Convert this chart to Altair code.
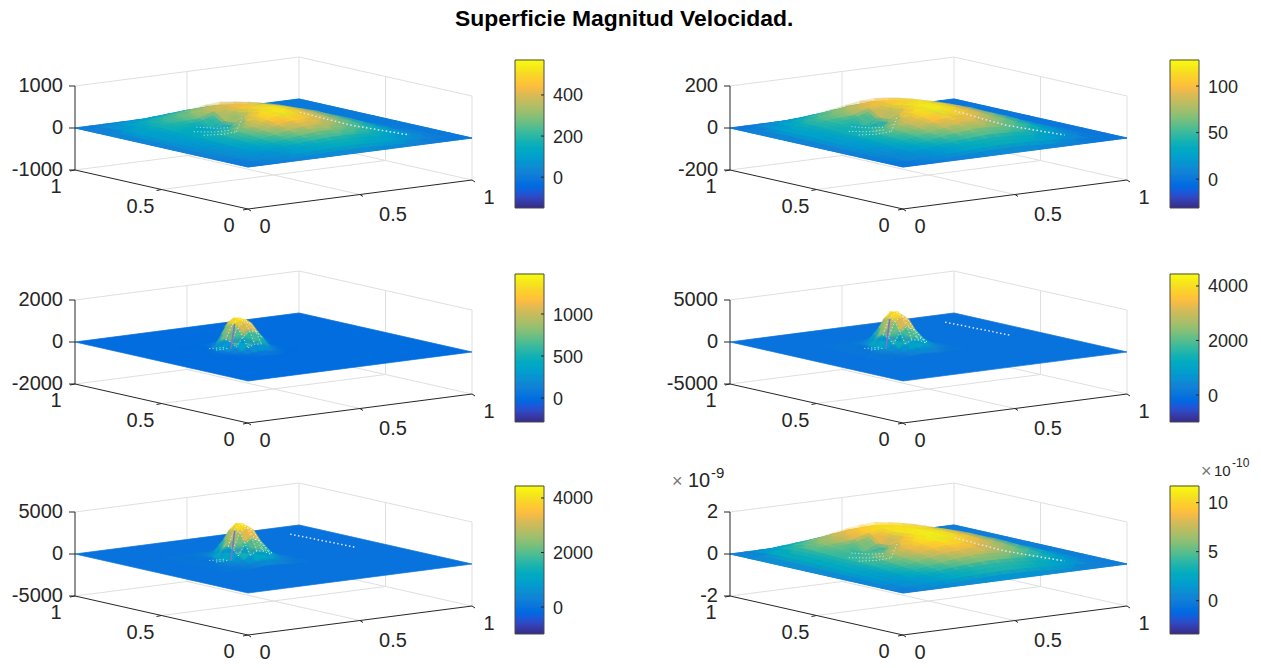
import altair as alt
import pandas as pd

RGB = [(.2081,.1663,.5292),(.2081,.2386,.6771),(.1253,.3242,.8303),(.0060,.4086,.8828),(.0498,.4586,.8641),(.0779,.5040,.8384),(.0641,.5570,.8240),(.0265,.6137,.8135),(.0228,.6535,.7768),(.0590,.6838,.7254),(.1453,.7098,.6646),(.2586,.7317,.5954),(.3953,.7459,.5244),(.5300,.7491,.4661),(.6473,.7456,.4188),(.7525,.7384,.3768),(.8507,.7299,.3360),(.9739,.7314,.2666),(.9955,.7861,.1967),(.9697,.8481,.1475),(.9598,.9218,.0948),(.9763,.9831,.0538)]
PARULA = ["#%02x%02x%02x" % tuple(int(round(c*255)) for c in t) for t in RGB]

TITLE = "Superficie Magnitud Velocidad."

G17 = [i/16 for i in range(17)]
G17Y = [1 - i/16 for i in range(17)]
Z0 = [0]*17

P1_ROWS = [Z0,
[0,35,60,75,90,115,140,165,175,155,125,90,50,20,5,0,0],
[0,50,90,120,150,185,220,260,280,250,205,145,70,15,0,0,0],
[0,65,120,165,210,250,290,340,370,335,285,190,65,5,0,0,0],
[0,70,140,200,240,290,350,400,420,380,325,225,75,5,0,0,0],
[0,70,140,195,205,220,330,430,470,420,360,260,85,5,0,0,0],
[0,65,130,170,120,50,170,420,500,450,385,285,110,10,0,0,0],
[0,60,120,160,110,40,190,475,545,480,400,310,150,15,0,0,0],
[0,55,115,170,190,200,380,535,570,500,410,325,185,25,0,0,0],
[0,50,110,170,230,310,450,545,565,485,400,315,210,50,5,0,0],
[0,45,100,160,220,300,420,495,510,445,375,300,210,80,10,0,0],
[0,40,90,145,200,270,360,425,440,385,335,275,195,95,15,0,0],
[0,35,80,125,175,230,290,335,350,310,275,235,170,95,20,0,0],
[0,30,65,100,140,180,225,255,270,245,220,190,140,80,25,0,0],
[0,22,48,75,105,135,165,185,195,185,165,140,105,65,25,5,0],
[0,12,26,40,55,72,88,100,105,100,90,76,58,36,15,3,0],
Z0]

P2_ROWS = [Z0,
[0,8,14,18,22,28,34,40,42,38,32,24,14,6,1,0,0],
[0,13,23,31,39,49,58,67,70,63,52,36,17,4,0,0,0],
[0,16,30,42,54,65,77,88,92,84,70,47,19,2,0,0,0],
[0,18,34,50,62,74,87,100,105,96,80,56,21,2,0,0,0],
[0,18,36,50,56,60,82,104,114,104,87,63,25,3,0,0,0],
[0,17,34,46,38,20,50,102,120,110,94,70,32,4,0,0,0],
[0,16,32,44,34,16,54,113,125,114,98,76,42,6,0,0,0],
[0,15,30,45,50,52,92,121,128,116,100,80,50,10,0,0,0],
[0,14,29,44,58,78,106,123,127,113,97,78,55,18,2,0,0],
[0,13,27,41,56,74,98,113,117,104,92,75,55,26,4,0,0],
[0,12,24,38,52,66,86,99,103,92,82,68,52,29,6,0,0],
[0,10,21,33,45,57,70,79,83,75,68,58,44,27,8,0,0],
[0,8,17,27,36,46,56,62,66,61,55,47,36,23,8,0,0],
[0,6,13,19,27,34,41,45,48,46,41,35,27,17,7,1,0],
[0,3,7,10,14,18,22,25,26,25,22,19,15,10,4,1,0],
Z0]

P6_ROWS = [Z0,
[0,1.0,1.8,2.4,3.0,3.6,4.3,4.9,5.1,4.7,3.9,2.8,1.6,.6,0,0,0],
[0,1.5,2.8,3.9,4.8,5.9,6.9,7.8,8.1,7.4,6.1,4.1,1.9,.4,0,0,0],
[0,1.9,3.5,5.0,6.3,7.6,8.8,9.7,10.1,9.3,7.7,5.2,2.2,.3,0,0,0],
[0,2.0,3.9,5.6,6.9,8.2,9.5,10.4,10.8,10.1,8.6,6.2,2.6,.3,0,0,0],
[0,2.0,3.9,5.5,6.1,6.7,8.8,10.4,11.1,10.4,9.1,7.0,3.2,.4,0,0,0],
[0,1.9,3.7,5.0,4.0,2.0,5.0,9.8,11.3,10.7,9.4,7.6,4.1,.6,0,0,0],
[0,1.8,3.5,4.8,3.8,1.8,5.4,10.5,11.5,11.0,9.7,7.9,5.3,1,0,0,0],
[0,1.7,3.4,4.9,5.4,5.6,8.4,11.0,11.7,11.0,9.7,8.1,5.8,1.6,0,0,0],
[0,1.6,3.2,4.8,6.2,7.9,9.9,11.1,11.5,10.7,9.3,7.8,5.9,2.5,.3,0,0],
[0,1.5,3.0,4.5,5.9,7.6,9.3,10.3,10.6,9.8,8.8,7.4,5.7,3.1,.6,0,0],
[0,1.3,2.7,4.1,5.5,6.9,8.3,9.2,9.5,8.8,8.0,6.7,5.3,3.2,.9,0,0],
[0,1.1,2.3,3.5,4.8,6.0,7.1,7.8,8.1,7.5,6.9,5.9,4.7,3.0,1.1,0,0],
[0,.9,1.9,2.9,3.9,4.8,5.7,6.3,6.6,6.2,5.6,4.8,3.8,2.5,1.1,.1,0],
[0,.7,1.4,2.1,2.9,3.6,4.2,4.6,4.8,4.6,4.2,3.5,2.8,1.8,.8,.1,0],
[0,.4,.8,1.1,1.5,1.9,2.2,2.4,2.5,2.4,2.2,1.9,1.5,1.0,.4,.1,0],
Z0]

P3_X = [.22,.25,.28,.31,.34,.37,.40,.43,.46,.49,.52]
P3_Y = [.68,.65,.62,.59,.56,.53,.50,.47,.44,.41,.38]
P3_ROWS = [
[0,0,5,10,20,30,30,20,10,5,0],
[0,5,15,20,60,150,160,90,30,10,0],
[5,10,15,10,160,600,600,300,80,20,5],
[5,15,10,5,650,1170,1050,560,150,35,5],
[5,15,20,420,1150,1420,1280,800,230,50,10],
[5,20,60,560,1260,1470,1350,860,260,60,10],
[5,25,85,500,1150,1380,1240,780,240,55,10],
[5,20,70,300,740,1000,900,560,170,40,10],
[3,12,40,110,300,430,390,240,80,25,5],
[0,5,15,30,75,120,110,70,25,8,3],
[0,0,5,8,15,25,25,15,8,3,0]]

P4_X = [.20,.23,.26,.29,.32,.35,.38,.41,.44,.47,.50,.53,.56]
P4_Y = [.74,.71,.68,.65,.62,.59,.56,.53,.50,.47,.44,.41,.38]
P4_ROWS = [
[30,40,50,60,70,80,90,80,65,50,35,25,20],
[50,65,80,100,130,160,185,165,130,90,60,40,25],
[70,90,105,125,180,310,400,350,240,140,80,50,35],
[85,105,110,95,160,660,970,820,500,250,120,70,45],
[95,110,95,50,110,1450,2150,1850,1050,480,220,105,60],
[105,100,60,20,55,2350,3450,2950,1700,760,340,150,80],
[105,100,60,25,1450,3550,4250,3600,2150,1000,450,200,95],
[105,105,100,190,1950,3950,4380,3800,2300,1100,510,230,110],
[100,110,150,420,1750,3600,4100,3500,2150,1060,510,240,115],
[95,120,190,420,1100,2400,3000,2600,1650,880,450,225,110],
[85,110,170,300,600,1150,1550,1400,980,570,320,175,95],
[75,95,125,185,300,510,660,630,480,310,190,120,80],
[60,75,90,115,155,210,265,260,210,155,115,85,60]]

P5_ROWS = [
[60,70,80,90,100,110,115,110,95,70,50,35,25],
[80,95,110,130,160,190,210,190,150,100,65,45,30],
[100,120,130,150,210,340,420,370,260,150,85,55,40],
[110,130,130,110,180,700,1000,850,520,260,130,75,50],
[120,130,110,60,120,1500,2200,1900,1100,500,230,110,65],
[130,120,70,20,60,2400,3500,3000,1800,800,360,160,85],
[130,120,70,25,1500,3600,4300,3700,2300,1050,470,210,100],
[130,125,110,200,2000,4000,4400,3900,2450,1150,530,240,115],
[125,130,170,450,1800,3700,4200,3650,2300,1120,540,250,120],
[120,140,210,450,1150,2500,3100,2750,1800,950,480,240,120],
[110,130,180,320,650,1250,1650,1500,1050,620,350,190,100],
[100,110,140,200,330,560,720,680,520,340,210,130,85],
[80,90,105,130,170,230,290,280,230,170,125,95,70]]

Z_TICKS = [[1000,0,-1000],[200,0,-200],[2000,0,-2000],[5000,0,-5000],[5000,0,-5000],[20,0,-20]]
Z_LABELS = [["1000","0","-1000"],["200","0","-200"],["2000","0","-2000"],["5000","0","-5000"],["5000","0","-5000"],["2","0","-2"]]
CB_DOMAIN = [[-150,570],[-31,128],[-285,1476],[-990,4440],[-990,4440],[-3.4,11.7]]
CB_TICKS = [[0,200,400],[0,50,100],[0,500,1000],[0,2000,4000],[0,2000,4000],[0,5,10]]
XY_TICKS = [0,0.5,1]

SURF = [(G17,G17Y,P1_ROWS),(G17,G17Y,P2_ROWS),(P3_X,P3_Y,P3_ROWS),(P4_X,P4_Y,P4_ROWS),(P4_X,P4_Y,P5_ROWS),(G17,G17Y,P6_ROWS)]

# specks and streaks on steep walls: polylines as (x, y, fraction of the peak)
BOWL = [[(.25,.58,.08),(.31,.55,.09),(.38,.56,.1)],[(.26,.65,.1),(.32,.61,.08),(.38,.60,.1)],[(.31,.70,.15),(.36,.65,.12),(.40,.62,.15)],[(.38,.56,.1),(.42,.60,.18),(.46,.63,.45)]]
RIDGE_A = [[(.70,.607,.45),(.817,.469,0),(.86,.18,0)]]
RIDGE_B = [[(.86,.87,0),(.88,.52,0)]]
FOOT = [[(.29,.56,.02),(.32,.555,.03),(.35,.565,.02)],[(.29,.60,.02),(.32,.59,.02),(.35,.59,.02)]]
SPECKS = [BOWL, BOWL, FOOT, FOOT, FOOT, BOWL]
RIDGES = [RIDGE_A, RIDGE_A, [], RIDGE_B, RIDGE_B, RIDGE_A]
STREAK = [(.36,.565,0),(.35,.53,.85)]

# layout of the six axes boxes, in page pixels
COLS = [0,655]; ROWS = [0,214,426]
F0 = (248,209); RX = (224,-29); RY = (-173,-39); ZH = 84
CBX = (515,544); CBY = (60,208)
FONT = "Liberation Sans"; INK = "#262626"; GRID = "#dfdfdf"; FRAME = "#4a4a4a"

def mk(p):
    c = p % 2; r = p // 2
    ox, oy = COLS[c], ROWS[r]
    zr = Z_TICKS[p]
    def pr(x,y,z=None):
        f = 0 if z is None else (z-zr[2])/(zr[0]-zr[2])
        return (F0[0]+ox+x*RX[0]+y*RY[0], F0[1]+oy+x*RX[1]+y*RY[1]-f*ZH)
    return pr, ox, oy

X = lambda: alt.X("x:Q",scale=alt.Scale(domain=[8,1253]),axis=None)
Y = lambda: alt.Y("y:Q",scale=alt.Scale(domain=[664,8]),axis=None)
lines, ink, frames, texts_r, texts_c, texts_cb, cbt, spk, strk, rdg = [], [], [], [], [], [], [], [], [], []
layers_surf, layers_cb = [], []
def seg(lst,a,b): lst.append(dict(x=a[0],y=a[1],x2=b[0],y2=b[1]))
def feat(v,ring):
    return dict(type="Feature",properties=dict(v=v),geometry=dict(type="Polygon",coordinates=[ring]))

for p in range(6):
    pr,ox,oy = mk(p)
    zt,zb = Z_TICKS[p][0],Z_TICKS[p][2]
    for a,b in [((0,1,zt),(1,1,zt)),((1,1,zt),(1,0,zt)),((0,1,zb),(1,1,zb)),((1,1,zb),(1,0,zb)),
                ((.5,1,zb),(.5,1,zt)),((1,1,zb),(1,1,zt)),((1,0,zb),(1,0,zt)),((1,.5,zb),(1,.5,zt)),
                ((.5,0,zb),(.5,1,zb)),((0,.5,zb),(1,.5,zb)),((0,1,0),(1,1,0)),((1,1,0),(1,0,0))]:
        seg(lines,pr(*a),pr(*b))
    for a,b in [((0,1,zb),(0,1,zt)),((0,0,zb),(0,1,zb)),((0,0,zb),(1,0,zb))]:
        seg(ink,pr(*a),pr(*b))
    for z,l in zip(Z_TICKS[p],Z_LABELS[p]):
        q = pr(0,1,z)
        seg(ink,q,(q[0]-6,q[1]))
        texts_r.append(dict(x=q[0]-12,y=q[1],t=l))
    for t in XY_TICKS:
        l = "%g"%t
        a = pr(t,0,zb); seg(ink,a,(a[0]+3,a[1]+2))
        texts_c.append(dict(x=a[0]+(33 if t==.5 else 17),y=a[1]+(20 if t==.5 else 18),t=l))
        a = pr(0,t,zb); seg(ink,a,(a[0]-5,a[1]+1))
        texts_c.append(dict(x=a[0]-(21 if t==.5 else 19),y=a[1]+17,t=l))
    xs,ys,rows = SURF[p]
    dom = CB_DOMAIN[p]
    peak = max(max(r) for r in rows)
    base = [pr(0,0,0),pr(1,0,0),pr(1,1,0),pr(0,1,0),pr(0,0,0)]
    feats = [(9,feat(0,[list(q) for q in base]))]
    soft = []
    broad = len(xs) == 17
    for j in range(len(ys)-1):
        for i in range(len(xs)-1):
            cs = [(i,j),(i+1,j),(i+1,j+1),(i,j+1)]
            vals = [rows[b][a] for a,b in cs]
            ring = [list(pr(xs[a],ys[b],rows[b][a])) for a,b in cs]
            ring.append(ring[0])
            v = sum(vals)/4
            f = feat(v,ring)
            feats.append((xs[i]+ys[j],f))
            if not broad or (0 < i < len(xs)-2 and 2 < j < len(ys)-2 and min(vals) > .04*peak):
                soft.append((xs[i]+ys[j],f))
    feats.sort(key=lambda t:-t[0]); soft.sort(key=lambda t:-t[0])
    scale = alt.Scale(domain=dom,range=PARULA,nice=False,zero=False,clamp=True)
    def geo(items,**kw):
        return alt.Chart(alt.InlineData(values=[f for _,f in items])).mark_geoshape(**kw).encode(
            color=alt.Color("properties.v:Q",scale=scale,legend=None),
            stroke=alt.Stroke("properties.v:Q",scale=scale,legend=None),
        ).project(type="identity",scale=1,translate=[-8,-8])
    layers_surf.append(geo(feats,strokeWidth=.7,opacity=1))
    layers_surf.append(geo(soft,strokeWidth=(7 if broad else 2.5),fillOpacity=.35,strokeOpacity=.35))
    # colour bar
    n = CBY[1]-CBY[0]
    bar = [dict(x=CBX[0]+ox,x2=CBX[1]+ox,y=CBY[1]+oy-k,y2=CBY[1]+oy-k-1.4,v=dom[0]+(k+.5)/n*(dom[1]-dom[0])) for k in range(n)]
    layers_cb.append(alt.Chart(pd.DataFrame(bar)).mark_rect().encode(
        x=X(),y=Y(),x2="x2:Q",y2="y2:Q",color=alt.Color("v:Q",scale=scale,legend=None)))
    L,Rr,T,B = CBX[0]+ox,CBX[1]+ox,CBY[0]+oy,CBY[1]+oy
    seg(frames,(L,T),(Rr,T)); seg(frames,(L,B),(Rr,B)); seg(frames,(L,T),(L,B)); seg(frames,(Rr,T),(Rr,B))
    for v in CB_TICKS[p]:
        yy = B-(v-dom[0])/(dom[1]-dom[0])*n
        seg(cbt,(Rr-3,yy),(Rr,yy))
        texts_cb.append(dict(x=Rr+9,y=yy+1.5,t="%g"%v))
    for k,poly in enumerate(SPECKS[p]):
        for i,(a,b,f) in enumerate(poly):
            q = pr(a,b,f*peak)
            spk.append(dict(x=q[0],y=q[1],k=f"{p}-{k}",i=i))
    for k,poly in enumerate(RIDGES[p]):
        for i,(a,b,f) in enumerate(poly):
            q = pr(a,b,f*peak)
            rdg.append(dict(x=q[0],y=q[1],k=f"{p}-{k}",i=i))
    if not broad:
        apex = max(range(len(ys)),key=lambda j:max(rows[j]))
        for j in range(apex,len(ys)):
            pts = [(xs[i],ys[j],rows[j][i]) for i in range(len(xs)) if rows[j][i] >= .2*peak]
            for i,t in enumerate(pts):
                q = pr(*t); spk.append(dict(x=q[0],y=q[1],k=f"{p}-r{j}",i=i))
        for i in range(len(xs)):
            pts = [(xs[i],ys[j],rows[j][i]) for j in range(apex,len(ys)) if rows[j][i] >= .2*peak]
            for m,t in enumerate(pts):
                q = pr(*t); spk.append(dict(x=q[0],y=q[1],k=f"{p}-c{i}",i=m))
        for i,(a,b,f) in enumerate(STREAK):
            q = pr(a,b,f*peak); strk.append(dict(x=q[0],y=q[1],k=f"{p}",i=i))

def rules(rows,color,w):
    return alt.Chart(pd.DataFrame(rows)).mark_rule(color=color,strokeWidth=w).encode(x=X(),y=Y(),x2="x2:Q",y2="y2:Q")
def txt(rows,align,size=20,color=INK):
    return alt.Chart(pd.DataFrame(rows)).mark_text(align=align,baseline="middle",font=FONT,fontSize=size,color=color).encode(x=X(),y=Y(),text="t:N")

EXP_X = [dict(x=672,y=482,t="×"),dict(x=1201,y=472,t="×")]
EXP_BIG = [dict(x=688,y=481,t="10")]
EXP_BIG2 = [dict(x=711,y=473,t="-9")]
EXP_SM = [dict(x=1214,y=471,t="10")]
EXP_SM2 = [dict(x=1232,y=463,t="-10")]

specks = alt.Chart(pd.DataFrame(spk)).mark_line(color="white",strokeWidth=.8,strokeDash=[1.2,2.2],opacity=.8).encode(x=X(),y=Y(),detail="k:N",order="i:Q")
ridges = alt.Chart(pd.DataFrame(rdg)).mark_line(color="#e6e0f5",strokeWidth=1.5,strokeDash=[1.5,2.5]).encode(x=X(),y=Y(),detail="k:N",order="i:Q")
streak = alt.Chart(pd.DataFrame(strk)).mark_line(color="#7d74c4",strokeWidth=1.6).encode(x=X(),y=Y(),detail="k:N",order="i:Q")

chart = alt.layer(
    rules(lines,GRID,1), *layers_surf, specks, ridges, streak, rules(ink,INK,1), *layers_cb, rules(frames,FRAME,1), rules(cbt,INK,1),
    txt(texts_r,"right"), txt(texts_c,"center"), txt(texts_cb,"left",18),
    txt(EXP_X,"left",18,"#777777"), txt(EXP_BIG,"left"), txt(EXP_BIG2,"left",15), txt(EXP_SM,"left",15), txt(EXP_SM2,"left",12),
).resolve_scale(color="independent",stroke="independent").properties(
    width=1245,height=656,padding=0,autosize=alt.AutoSizeParams(type="none"),
    title=alt.TitleParams(TITLE,font=FONT,fontSize=22.9,fontWeight="bold",color="black",anchor="start",dx=447,dy=34,offset=0,baseline="middle"),
).configure_view(stroke=None)
chart.save("out.html", embed_options={"renderer":"svg","actions":False})
